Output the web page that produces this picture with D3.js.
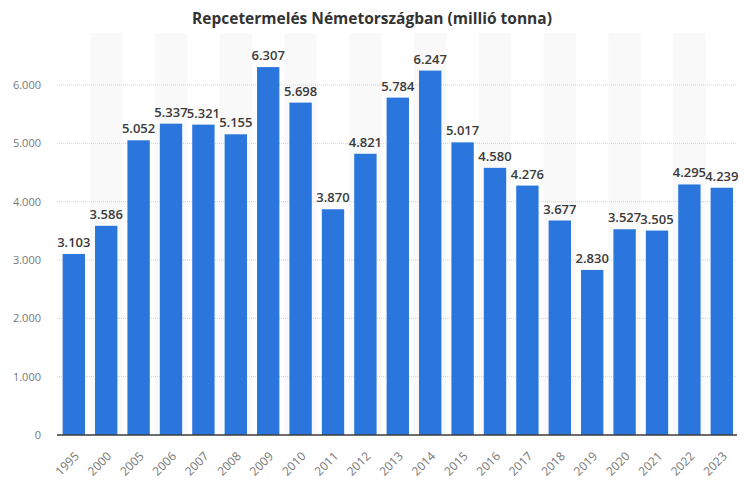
<!DOCTYPE html>
<html>
<head>
<meta charset="utf-8">
<script src="https://cdn.jsdelivr.net/npm/d3@7"></script>
<style>
  html, body { margin: 0; padding: 0; background: #fff; }
  svg { display: block; }
</style>
</head>
<body>
<svg id="chart" width="750" height="490"></svg>
<script>
const title = "Repcetermelés Németországban (millió tonna)";
const years = ["1995","2000","2005","2006","2007","2008","2009","2010","2011","2012","2013","2014","2015","2016","2017","2018","2019","2020","2021","2022","2023"];
const production = [3103,3586,5052,5337,5321,5155,6307,5698,3870,4821,5784,6247,5017,4580,4276,3677,2830,3527,3505,4295,4239];
const yTicks = [0,1000,2000,3000,4000,5000,6000];

const svg = d3.select("#chart");
const font = "'Open Sans', 'Noto Sans', sans-serif";
const fmt = v => d3.format(",")(v).replace(/,/g, ".");
const fmtVal = v => (v/1000).toFixed(3);

const x = d3.scaleBand().domain(years).range([57.6, 738]).paddingInner(0.31).paddingOuter(0.155);
const y = d3.scaleLinear().domain([0, 6000]).range([435, 85]);
const step = x.step();

// alternating background stripes
svg.append("g").selectAll("rect")
  .data(years.filter((d, i) => i % 2 === 1))
  .join("rect")
  .attr("x", d => x(d) - step * x.paddingInner() / 2)
  .attr("y", 33)
  .attr("width", step)
  .attr("height", 435 - 33)
  .attr("fill", "#f9f9f9");

// gridlines
svg.append("g").selectAll("line")
  .data(yTicks.filter(t => t > 0))
  .join("line")
  .attr("x1", 57).attr("x2", 737)
  .attr("y1", d => y(d)).attr("y2", d => y(d))
  .attr("stroke", "#d4d4d4")
  .attr("stroke-width", 1)
  .attr("stroke-dasharray", "1,1");

// y axis labels
const yAxis = d3.axisLeft(y).tickValues(yTicks).tickFormat(fmt).tickSize(0).tickPadding(0);
const gy = svg.append("g").attr("transform", "translate(41,0)").call(yAxis);
gy.select(".domain").remove();
gy.selectAll("text")
  .attr("font-family", font).attr("font-size", 11).attr("fill", "#777");

// bars
svg.append("g").selectAll("rect")
  .data(years)
  .join("rect")
  .attr("x", d => x(d))
  .attr("y", (d, i) => y(production[i]))
  .attr("width", x.bandwidth())
  .attr("height", (d, i) => y(0) - y(production[i]))
  .attr("fill", "#2a76dc");

// value labels
svg.append("g").selectAll("text")
  .data(years)
  .join("text")
  .attr("x", d => x(d) + x.bandwidth() / 2)
  .attr("y", (d, i) => y(production[i]) - 7)
  .attr("text-anchor", "middle")
  .attr("font-family", font)
  .attr("font-size", 13)
  .attr("font-weight", 600)
  .attr("fill", "#3a3a3a")
  .text((d, i) => fmtVal(production[i]));

// x axis
const xAxis = d3.axisBottom(x).tickSize(0).tickPadding(0);
const gx = svg.append("g").attr("transform", "translate(0,435)").call(xAxis);
gx.select(".domain").remove();
gx.selectAll("text")
  .attr("font-family", font).attr("font-size", 12).attr("fill", "#777")
  .attr("text-anchor", "end")
  .attr("y", 0).attr("dy", 0)
  .attr("transform", "translate(6,22) rotate(-45)");

svg.append("line")
  .attr("x1", 57).attr("x2", 737)
  .attr("y1", y(0)).attr("y2", y(0))
  .attr("stroke", "#3c3c3c").attr("stroke-width", 1.5);

// title
svg.append("text")
  .attr("x", 372).attr("y", 24)
  .attr("text-anchor", "middle")
  .attr("font-family", font)
  .attr("font-size", 15.5)
  .attr("font-weight", 700)
  .attr("fill", "#333")
  .text(title);
</script>
</body>
</html>
